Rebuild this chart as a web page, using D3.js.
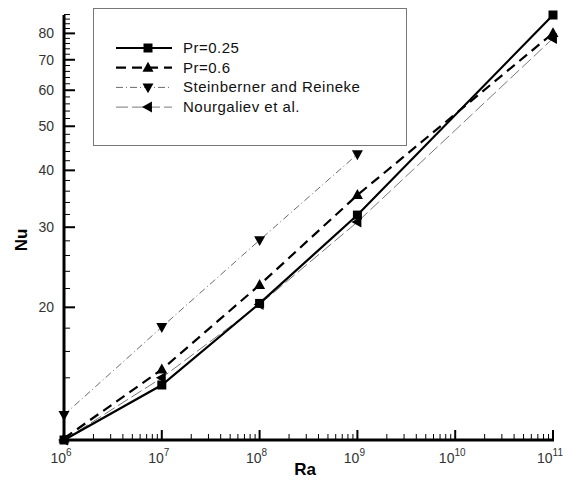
<!DOCTYPE html>
<html>
<head>
<meta charset="utf-8">
<script src="https://cdn.jsdelivr.net/npm/d3@7"></script>
<style>
  body { margin: 0; background: #fff; }
  svg text { font-family: "Liberation Sans", Arial, sans-serif; }
</style>
</head>
<body>
<svg width="568" height="480"></svg>
<script>
// Ra values (x) and Nu values (y)
var ra = [1e6, 1e7, 1e8, 1e9, 1e11];
var nuPr025 = [10.22, 13.5, 20.4, 31.9, 87.8];
var nuPr06 = [10.3, 14.6, 22.4, 35.3, 80.1];
var raSteinberner = [1e6, 1e7, 1e8, 1e9];
var nuSteinberner = [11.6, 18.1, 28.1, 43.4];
var nuNourgaliev = [10.22, 14.0, 20.3, 30.8, 78];

var xMajor = [6, 7, 8, 9, 10, 11];
var yMajor = [20, 30, 40, 50, 60, 70, 80];
var yMinor = d3.range(14, 89, 2).filter(function(v){ return yMajor.indexOf(v) < 0; });

var svg = d3.select("svg");

var x = d3.scaleLog().domain([1e6, 1e11]).range([64, 553]),
    y = d3.scaleLog().domain([10.22, 87.8]).range([440, 15]);

var series = [
  {name: "Pr=0.25", xs: ra, ys: nuPr025, width: 2.2, dash: null, color: "#000", marker: "square"},
  {name: "Pr=0.6", xs: ra, ys: nuPr06, width: 2.2, dash: "10,6", color: "#000", marker: "up"},
  {name: "Steinberner and Reineke", xs: raSteinberner, ys: nuSteinberner, width: 0.8, dash: "7,3,1,3", color: "#444", marker: "down"},
  {name: "Nourgaliev et al.", xs: ra, ys: nuNourgaliev, width: 0.8, dash: "12,4", color: "#555", marker: "left"}
];

// axes
var g = svg.append("g");
var xMinor = [];
for (var e = 6; e < 11; e++) {
  for (var k = 2; k < 10; k++) xMinor.push(k * Math.pow(10, e));
}
g.selectAll(".xminor").data(xMinor).enter().append("line")
  .attr("x1", function(d){ return x(d); }).attr("x2", function(d){ return x(d); })
  .attr("y1", 440).attr("y2", 434)
  .attr("stroke", "#000").attr("stroke-width", 1);
g.selectAll(".xmajor").data(xMajor).enter().append("line")
  .attr("x1", function(d){ return x(Math.pow(10, d)); }).attr("x2", function(d){ return x(Math.pow(10, d)); })
  .attr("y1", 440).attr("y2", 430)
  .attr("stroke", "#000").attr("stroke-width", 2);
g.selectAll(".yminor").data(yMinor).enter().append("line")
  .attr("x1", 64).attr("x2", 70)
  .attr("y1", function(d){ return y(d); }).attr("y2", function(d){ return y(d); })
  .attr("stroke", "#000").attr("stroke-width", 1);
g.selectAll(".ymajor").data(yMajor).enter().append("line")
  .attr("x1", 64).attr("x2", 75)
  .attr("y1", function(d){ return y(d); }).attr("y2", function(d){ return y(d); })
  .attr("stroke", "#000").attr("stroke-width", 2);

g.append("line").attr("x1", 64).attr("x2", 64).attr("y1", 15).attr("y2", 441)
  .attr("stroke", "#000").attr("stroke-width", 3);
g.append("line").attr("x1", 63).attr("x2", 554).attr("y1", 440).attr("y2", 440)
  .attr("stroke", "#000").attr("stroke-width", 3);

// tick labels
g.selectAll(".ylab").data(yMajor).enter().append("text")
  .attr("x", 54).attr("y", function(d){ return y(d) + 5; })
  .attr("text-anchor", "end").attr("font-size", 14).attr("fill", "#333")
  .text(function(d){ return d; });

var xl = g.selectAll(".xlab").data(xMajor).enter().append("text")
  .attr("x", function(d){ return x(Math.pow(10, d)) - 3; }).attr("y", 463)
  .attr("text-anchor", "middle").attr("font-size", 14).attr("fill", "#333");
xl.append("tspan").text("10");
xl.append("tspan").attr("dy", -7).attr("font-size", 10).text(function(d){ return d; });

// axis titles
svg.append("text").attr("x", 305).attr("y", 475).attr("text-anchor", "middle")
  .attr("font-size", 17).attr("font-weight", "bold").text("Ra");
svg.append("text").attr("transform", "translate(27,240) rotate(-90)").attr("text-anchor", "middle")
  .attr("font-size", 17).attr("font-weight", "bold").text("Nu");

// markers
function markerPath(type, s) {
  if (type === "square") return "M" + (-s/2) + "," + (-s/2) + "h" + s + "v" + s + "h" + (-s) + "Z";
  var h = s * 0.9;
  if (type === "up") return "M0," + (-h*0.6) + "L" + (s/2) + "," + (h*0.4) + "L" + (-s/2) + "," + (h*0.4) + "Z";
  if (type === "down") return "M0," + (h*0.6) + "L" + (s/2) + "," + (-h*0.4) + "L" + (-s/2) + "," + (-h*0.4) + "Z";
  return "M" + (-h*0.6) + ",0L" + (h*0.4) + "," + (-s/2) + "L" + (h*0.4) + "," + (s/2) + "Z";
}

var line = d3.line().x(function(d){ return x(d[0]); }).y(function(d){ return y(d[1]); });

// draw thin series first, thick ones on top
[3, 2, 1, 0].forEach(function(i){
  var s = series[i];
  var pts = d3.zip(s.xs, s.ys);
  svg.append("path").datum(pts)
    .attr("d", line).attr("fill", "none")
    .attr("stroke", s.color).attr("stroke-width", s.width)
    .attr("stroke-dasharray", s.dash);
  svg.selectAll(".m" + i).data(pts).enter().append("path")
    .attr("transform", function(d){ return "translate(" + x(d[0]) + "," + y(d[1]) + ")"; })
    .attr("d", markerPath(s.marker, s.marker === "square" ? 9 : 11))
    .attr("fill", "#000");
});

// legend
var leg = svg.append("g");
leg.append("rect").attr("x", 93.5).attr("y", 8.5).attr("width", 313).attr("height", 137)
  .attr("fill", "#fff").attr("stroke", "#777").attr("stroke-width", 1);
series.forEach(function(s, i){
  var ly = 48 + i * 19.7;
  leg.append("line").attr("x1", 116).attr("x2", 172).attr("y1", ly).attr("y2", ly)
    .attr("stroke", s.color).attr("stroke-width", s.width).attr("stroke-dasharray", s.dash);
  leg.append("path").attr("transform", "translate(148," + ly + ")")
    .attr("d", markerPath(s.marker, s.marker === "square" ? 9 : 11)).attr("fill", "#000");
  leg.append("text").attr("x", 183).attr("y", ly + 5).attr("font-size", 15)
    .attr("letter-spacing", 0.5).attr("fill", "#111")
    .text(s.name);
});
</script>
</body>
</html>
